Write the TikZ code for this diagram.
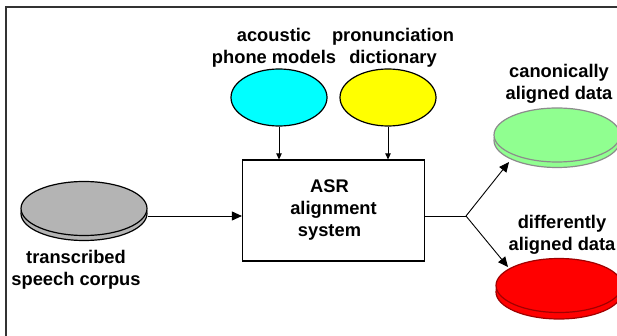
\documentclass[tikz,border=0pt]{standalone}
\usepackage{fontspec}
\setmainfont{Liberation Sans}
\usetikzlibrary{shapes.geometric,arrows.meta}
\definecolor{diskgray}{HTML}{B4B4B4}
\definecolor{diskgreen}{HTML}{90FF90}
\definecolor{greenedge}{HTML}{8C8C8C}
\definecolor{diskred}{HTML}{FF0000}
\definecolor{rededge}{HTML}{A00000}
\definecolor{blobcyan}{HTML}{00FFFF}
\definecolor{blobyellow}{HTML}{FFFF00}
\definecolor{framecol}{HTML}{333333}
\begin{document}
\begin{tikzpicture}[x=1pt,y=-1pt,
  lbl/.style={font=\fontsize{18.3}{22}\selectfont\bfseries, align=center, inner sep=0pt},
  blob/.style={ellipse, draw=black, line width=1.2pt, inner sep=0pt, minimum width=96pt, minimum height=57pt},
  disk/.style={ellipse, inner sep=0pt, line width=1.2pt, minimum width=126pt, minimum height=54pt},
  procbox/.style={draw=black, line width=1.2pt, minimum width=182pt, minimum height=101pt, inner sep=0pt,
    font=\fontsize{18.3}{22}\selectfont\bfseries, align=center},
  arr/.style={-{Triangle[length=10pt,width=9pt]}, line width=0.9pt},
  sarr/.style={-{Triangle[length=6pt,width=5.5pt]}, line width=0.9pt}]
\useasboundingbox (0,0) rectangle (617,336);
\fill[white] (0,0) rectangle (617,336);
\draw[framecol, line width=1.2pt] (6,336) -- (6,7) -- (617,7);

% disks
\node[disk, fill=diskgray, draw=black] (grayb) at (84,213.5) {};
\node[disk, fill=diskgray, draw=black] (gray) at (84,208.5) {};
\node[disk, fill=diskgreen, draw=greenedge] (greenb) at (557,140.5) {};
\node[disk, fill=diskgreen, draw=greenedge] (green) at (557,135) {};
\node[disk, fill=diskred, draw=rededge] (redb) at (559,292) {};
\node[disk, fill=diskred, draw=rededge] (red) at (559,285.5) {};

% inputs
\node[blob, fill=blobcyan] (cyan) at (279,97.5) {};
\node[blob, fill=blobyellow] (yellow) at (388,97.5) {};

% box
\node[procbox] (box) at (333.5,210.5) {ASR\hspace*{8pt}\\alignment\hspace*{8pt}\\system\hspace*{8pt}};

% labels
\node[lbl] (tacoustic) at (274,47.4) {acoustic\\phone models};
\node[lbl] (tpron) at (393,47.4) {pronunciation\\dictionary};
\node[lbl] (tcanon) at (559,83.4) {canonically\\aligned data};
\node[lbl] (tdiff) at (562,234.4) {differently\\aligned data};
\node[lbl] (tcorpus) at (76,269.4) {transcribed\\speech corpus};

% connectors
\coordinate (j) at (466,216);
\coordinate (gend) at (509,162);
\coordinate (rend) at (508,267);
\draw[sarr] (cyan.south) -- (cyan.south |- box.north);
\draw[sarr] (yellow.south) -- (yellow.south |- box.north);
\draw[arr] (grayb.east |- j) -- (box.west |- j);
\draw[line width=0.9pt] (box.east |- j) -- (j);
\draw[arr] (j) -- (gend);
\draw[arr] (j) -- (rend);
\end{tikzpicture}
\end{document}
